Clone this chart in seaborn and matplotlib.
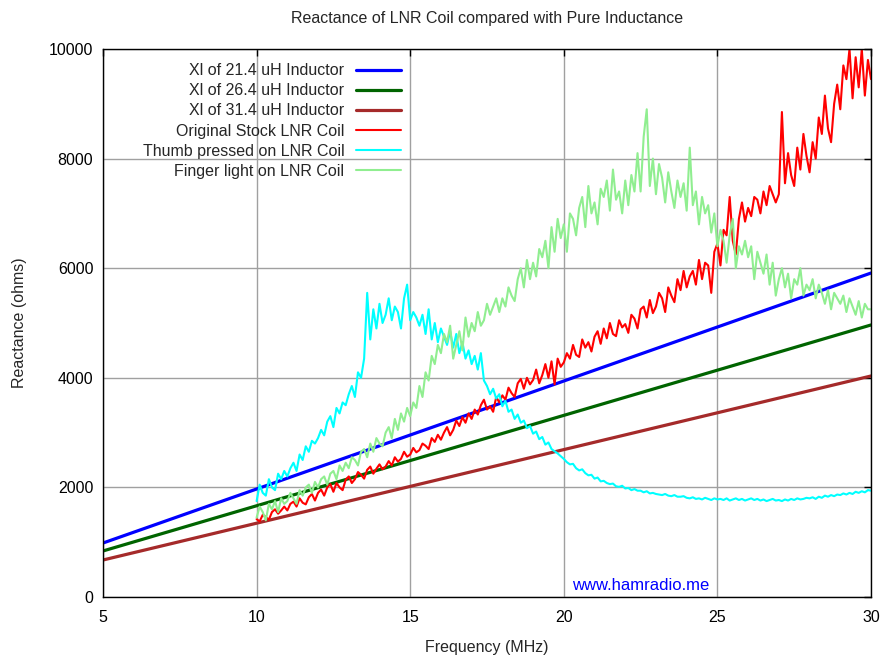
import numpy as np
import pandas as pd
import matplotlib
matplotlib.use("Agg")
import matplotlib.pyplot as plt
import seaborn as sns

# ---------------- data ----------------
ind_freq = [5, 30]
xl_21 = [985, 5912]
xl_26 = [840, 4964]
xl_31 = [675, 4033]

freq = np.round(np.linspace(10.0, 30.0, 201), 1)

stock = [
    1420, 1380, 1500, 1460, 1410, 1550, 1600, 1520, 1580, 1650,
    1580, 1700, 1740, 1650, 1800, 1720, 1690, 1820, 1880, 1760,
    1900, 1960, 1850, 2000, 2060, 1920, 2080, 2000, 1950, 2140,
    2200, 2080, 2150, 2280, 2230, 2160, 2320, 2380, 2250, 2340,
    2420, 2330, 2380, 2480, 2400, 2550, 2470, 2520, 2650, 2560,
    2600, 2720, 2640, 2680, 2800, 2760, 2700, 2900, 2830, 2960,
    2870, 3000, 3100, 2950, 3050, 3220, 3120, 3280, 3180, 3350,
    3250, 3420, 3330, 3500, 3600, 3420, 3480, 3380, 3650, 3550,
    3680, 3600, 3820, 3720, 3650, 3900, 3980, 3800, 4000, 3880,
    3960, 4150, 3900, 4050, 4250, 4000, 4300, 3880, 4350, 4200,
    4280, 4450, 4350, 4600, 4420, 4380, 4700, 4550, 4650, 4480,
    4750, 4850, 4620, 4900, 4720, 5000, 4800, 4760, 5050, 4920,
    4980, 4820, 5150, 5080, 4900, 5250, 5300, 5100, 5420, 5180,
    5300, 5550, 5450, 5200, 5650, 5500, 5380, 5800, 5600, 5950,
    5650, 5850, 5950, 5700, 6150, 5800, 6100, 6050, 5550, 6300,
    6450, 6050, 6700, 6600, 7300, 6500, 6250, 6900, 7200, 6850,
    7100, 6950, 7300, 7250, 7000, 7400, 7150, 7500, 7350, 7200,
    7350, 8850, 7550, 8100, 7700, 7500, 8200, 7800, 8450, 8050,
    7750, 8300, 8000, 8750, 8450, 9150, 8550, 8300, 9000, 9350,
    8900, 9700, 9450, 10000, 9100, 9850, 9300, 10000, 9150, 9800,
    9450,
]

thumb = [
    1750, 2050, 1900, 1850, 2150, 2000, 1950, 2250, 2150, 2300,
    2200, 2350, 2450, 2300, 2600, 2500, 2750, 2650, 2850, 2800,
    2900, 3050, 2950, 3200, 3300, 3100, 3450, 3350, 3550, 3500,
    3700, 3850, 3650, 4100, 4000, 4350, 5550, 4700, 5250, 4900,
    5350, 5000, 5150, 5450, 5050, 5300, 5200, 4900, 5450, 5700,
    5050, 5200, 5100, 4950, 5150, 4800, 5250, 4700, 5000, 4650,
    4900, 4750, 4600, 4850, 4550, 4800, 4450, 4650, 4350, 4500,
    4250, 4400, 4150, 4450, 3950, 3850, 3700, 3800, 3620, 3700,
    3480, 3580, 3380, 3420, 3250, 3330, 3180, 3220, 3080, 3120,
    2980, 3020, 2880, 2920, 2780, 2820, 2700, 2660, 2620, 2570,
    2520, 2460, 2420, 2430, 2350, 2310, 2330, 2260, 2220, 2230,
    2160, 2180, 2110, 2120, 2080, 2060, 2070, 2020, 2010, 2030,
    1980, 1990, 1950, 1970, 1940, 1940, 1910, 1930, 1890, 1900,
    1880, 1870, 1860, 1880, 1850, 1840, 1860, 1830, 1830, 1840,
    1810, 1800, 1820, 1790, 1800, 1780, 1810, 1790, 1770, 1800,
    1780, 1790, 1770, 1800, 1760, 1780, 1800, 1770, 1790, 1760,
    1780, 1800, 1770, 1790, 1760, 1780, 1750, 1770, 1790, 1760,
    1770, 1750, 1780, 1760, 1790, 1770, 1800, 1780, 1790, 1810,
    1800, 1820, 1790, 1830, 1810, 1850, 1830, 1860, 1840, 1870,
    1860, 1890, 1870, 1900, 1880, 1920, 1900, 1930, 1910, 1950,
    1940,
]

finger = [
    1450, 1650, 1550, 1400, 1700, 1600, 1750, 1550, 1800, 1700,
    1750, 1900, 1800, 1700, 1950, 1850, 2000, 2050, 1900, 2100,
    2000, 2150, 2200, 2050, 2250, 2300, 2150, 2400, 2300, 2450,
    2350, 2550, 2500, 2400, 2650, 2700, 2550, 2800, 2650, 2900,
    2800, 2750, 3000, 3100, 2900, 3250, 3050, 3350, 3200, 3450,
    3300, 3550, 3450, 3850, 3650, 4100, 3950, 4400, 4250, 4600,
    4450, 4800, 4650, 4950, 4350, 4600, 4850, 4500, 5100, 4750,
    5000, 4850, 5200, 4950, 5050, 5350, 5150, 5300, 5450, 5200,
    5450, 5300, 5650, 5500, 5400, 5800, 6000, 5650, 6150, 5800,
    6100, 5850, 6350, 6200, 6500, 6000, 6750, 6300, 6900, 6550,
    6800, 6300, 7000, 6900, 6600, 7100, 7300, 6750, 7500, 7000,
    7200, 6800, 7450, 7300, 7600, 7050, 7800, 7250, 7400, 7000,
    7600, 7150, 7700, 7400, 8100, 7400, 8400, 8900, 7500, 8000,
    7350, 7900, 7650, 7200, 7750, 7400, 7100, 7600, 7300, 7550,
    7050, 8200, 7150, 7400, 6800, 7300, 7000, 7150, 6650, 7000,
    6400, 6700, 6500, 6100, 6600, 6900, 6000, 6400, 6250, 6500,
    6200, 6400, 5800, 6300, 6100, 5900, 6250, 5700, 6100, 5500,
    5800, 6000, 5650, 5900, 5450, 5800, 5700, 6000, 5500, 5700,
    5600, 5800, 5450, 5700, 5550, 5350, 5600, 5250, 5550, 5450,
    5350, 5500, 5200, 5450, 5300, 5150, 5400, 5100, 5350, 5250,
    5250,
]

labels = [
    "Xl of 21.4 uH Inductor",
    "Xl of 26.4 uH Inductor",
    "Xl of 31.4 uH Inductor",
    "Original Stock LNR Coil",
    "Thumb pressed on LNR Coil",
    "Finger light on LNR Coil",
]
colors = ["#0000ff", "#006400", "#a52a2a", "#ff0000", "#00ffff", "#90ee90"]

# ---------------- plot ----------------
sns.set_style("white")
plt.rcParams["font.family"] = ["Liberation Sans", "DejaVu Sans"]

fig = plt.figure(figsize=(8.8, 6.57), dpi=100)
ax = fig.add_axes([103 / 880, 1 - 597 / 657, 768 / 880, 548 / 657])

ind_series = [xl_21, xl_26, xl_31]
for i, ys in enumerate(ind_series):
    sns.lineplot(x=ind_freq, y=ys, ax=ax, color=colors[i], lw=2.3,
                 label=labels[i], zorder=3)
for i, ys in enumerate([stock, thumb, finger]):
    sns.lineplot(x=freq, y=ys, ax=ax, color=colors[3 + i], lw=1.5,
                 label=labels[3 + i], zorder=3)

FS = 11.5
ax.set_xlim(5, 30)
ax.set_ylim(0, 10000)
ax.set_xticks([5, 10, 15, 20, 25, 30])
ax.set_yticks([0, 2000, 4000, 6000, 8000, 10000])
ax.grid(True, color="#a0a0a0", lw=1.0, zorder=0)
ax.set_axisbelow(True)
for s in ax.spines.values():
    s.set_color("black")
    s.set_linewidth(1.0)
    s.set_zorder(5)
ax.tick_params(direction="in", length=5, width=1, top=True, right=True,
               labelsize=FS, pad=7, colors="black")
ax.tick_params(axis="x", pad=9)

ax.set_xlabel("Frequency (MHz)", fontsize=FS, labelpad=11)
ax.set_ylabel("Reactance (ohms)", fontsize=FS, labelpad=16)
fig.text(487 / 880, 1 - 19 / 657, "Reactance of LNR Coil compared with Pure Inductance",
         ha="center", va="center", fontsize=FS)
ax.text(0.70, 0.008, "www.hamradio.me", transform=ax.transAxes,
        ha="center", va="bottom", color="#0000ff", fontsize=12)

leg = ax.legend(loc="upper right", bbox_to_anchor=(0.388, 0.974),
                frameon=False, markerfirst=False, fontsize=FS,
                handlelength=2.8, handletextpad=0.75, labelspacing=0.32,
                borderpad=0, borderaxespad=0)

fig.savefig("out.png", dpi=100)
